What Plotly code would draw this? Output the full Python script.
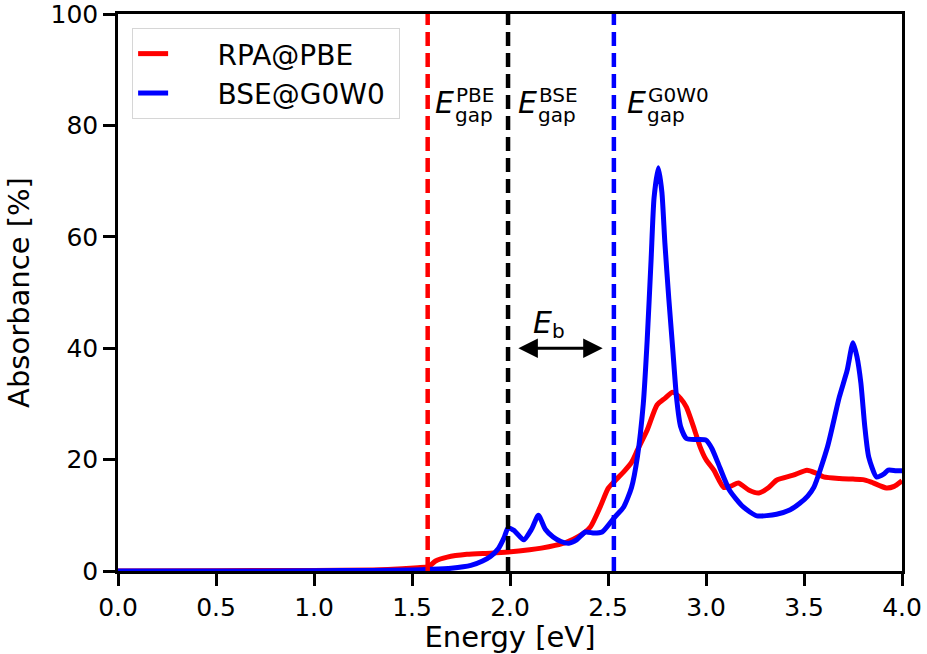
import plotly.graph_objects as go

# Absorbance spectra (energy in eV, absorbance in %)
energy_rpa = [0.0, 0.5, 1.0, 1.3, 1.45, 1.53, 1.585, 1.62, 1.68, 1.78, 1.9, 1.99, 2.1, 2.16,
              2.23, 2.29, 2.35, 2.41, 2.46, 2.5, 2.53, 2.58, 2.62, 2.65, 2.70, 2.75, 2.79,
              2.83, 2.87, 2.90, 2.94, 2.97, 3.0, 3.04, 3.09, 3.13, 3.165, 3.22, 3.27, 3.32,
              3.36, 3.445, 3.515, 3.56, 3.60, 3.68, 3.75, 3.80, 3.84, 3.92, 3.96, 4.0]
absorb_rpa = [0.0, 0.05, 0.1, 0.2, 0.4, 0.6, 0.8, 1.8, 2.5, 3.0, 3.2, 3.4, 3.8, 4.1,
              4.6, 5.2, 6.2, 7.9, 11.5, 14.8, 16.0, 17.8, 19.5, 21.7, 25.3, 29.8, 31.0,
              32.1, 31.0, 29.4, 25.5, 22.3, 20.0, 18.1, 15.0, 15.3, 15.8, 14.5, 14.0, 15.0,
              16.3, 17.2, 18.1, 17.6, 16.9, 16.6, 16.5, 16.4, 16.0, 14.9, 15.2, 16.2]

energy_bse = [0.0, 0.5, 1.0, 1.3, 1.5, 1.6, 1.7, 1.8, 1.86, 1.9, 1.94, 1.97, 1.99, 2.02,
              2.07, 2.11, 2.145, 2.18, 2.22, 2.26, 2.30, 2.34, 2.385, 2.43, 2.47, 2.53,
              2.58, 2.62, 2.65, 2.68, 2.70, 2.72, 2.735, 2.757, 2.775, 2.79, 2.81, 2.83,
              2.85, 2.87, 2.90, 2.95, 3.0, 3.03, 3.06, 3.12, 3.19, 3.26, 3.36, 3.43, 3.48,
              3.52, 3.55, 3.62, 3.68, 3.72, 3.75, 3.77, 3.79, 3.81, 3.83, 3.87, 3.91, 3.93,
              3.97, 4.0]
absorb_bse = [0.0, 0.0, 0.05, 0.1, 0.2, 0.3, 0.5, 1.0, 1.8, 2.6, 4.0, 6.0, 7.7, 7.3,
              5.6, 7.5, 10.0, 7.5, 6.1, 5.3, 5.0, 5.6, 7.0, 6.8, 7.0, 9.5,
              11.5, 15.0, 20.5, 30.0, 41.5, 56.0, 67.0, 72.4, 68.0, 59.0, 49.0, 40.0,
              31.0, 26.0, 23.8, 23.6, 23.5, 22.0, 19.5, 14.5, 11.5, 9.9, 10.2, 11.0, 12.2,
              13.5, 15.0, 22.3, 31.2, 36.0, 41.0, 38.5, 33.8, 26.0, 20.5, 16.9, 17.5, 18.1,
              18.0, 18.0]

# Band gaps (eV) and exciton binding-energy arrow
gap_names = ["PBE", "BSE", "G0W0"]
gap_values = [1.58, 1.99, 2.53]
gap_colors = ["red", "black", "blue"]
eb_range = [2.035, 2.473]
eb_level = 40

x_ticks = [0.0, 0.5, 1.0, 1.5, 2.0, 2.5, 3.0, 3.5, 4.0]
y_ticks = [0, 20, 40, 60, 80, 100]

FONT = "DejaVu Sans"
NB = "\u00a0"

fig = go.Figure()
fig.add_trace(go.Scatter(x=energy_rpa, y=absorb_rpa, mode="lines", name=NB * 5 + "RPA@PBE",
                         line=dict(color="red", width=5, shape="spline", smoothing=0.6)))
fig.add_trace(go.Scatter(x=energy_bse, y=absorb_bse, mode="lines", name=NB * 5 + "BSE@G0W0" + NB,
                         line=dict(color="blue", width=5, shape="spline", smoothing=0.6)))

for g, c in zip(gap_values, gap_colors):
    fig.add_trace(go.Scatter(x=[g, g], y=[0, 100], mode="lines", showlegend=False,
                             hoverinfo="skip",
                             line=dict(color=c, width=4.5, dash="14px,7px")))

# Gap labels: italic E with stacked super/subscripts
label_offsets = [0.027, 0.042, 0.058]
for name, g, off in zip(gap_names, gap_values, label_offsets):
    x0 = g + off
    fig.add_annotation(x=x0, y=84.2, xref="x", yref="y", text="<i>E</i>",
                       showarrow=False, xanchor="left", yanchor="middle",
                       font=dict(family=FONT, size=30, color="black"))
    fig.add_annotation(x=x0 + 0.105, y=85.5, xref="x", yref="y", text=name,
                       showarrow=False, xanchor="left", yanchor="middle",
                       font=dict(family=FONT, size=20, color="black"))
    fig.add_annotation(x=x0 + 0.1, y=81.8, xref="x", yref="y", text="gap",
                       showarrow=False, xanchor="left", yanchor="middle",
                       font=dict(family=FONT, size=20, color="black"))

# Binding-energy double arrow
fig.add_annotation(x=eb_range[1], y=eb_level, ax=eb_range[0], ay=eb_level,
                   xref="x", yref="y", axref="x", ayref="y", text="",
                   showarrow=True, arrowhead=2, startarrowhead=2, arrowside="end+start",
                   arrowsize=1.3, startarrowsize=1.3, arrowwidth=3, arrowcolor="black")
fig.add_annotation(x=2.105, y=44.6, xref="x", yref="y", text="<i>E</i>",
                   showarrow=False, xanchor="left", yanchor="middle",
                   font=dict(family=FONT, size=30, color="black"))
fig.add_annotation(x=2.205, y=43.0, xref="x", yref="y", text="b",
                   showarrow=False, xanchor="left", yanchor="middle",
                   font=dict(family=FONT, size=20, color="black"))

axis_common = dict(showline=True, linecolor="black", linewidth=2.5, mirror=True,
                   ticks="outside", ticklen=12, tickwidth=2.5, tickcolor="black",
                   showgrid=False, zeroline=False, automargin=False,
                   ticklabeloverflow="allow",
                   tickfont=dict(family=FONT, size=25, color="black"))

fig.update_xaxes(range=[0, 4], tickvals=x_ticks,
                 ticktext=[f"{v:.1f}" for v in x_ticks],
                 title=dict(text="Energy [eV]", font=dict(family=FONT, size=29, color="black"),
                            standoff=1),
                 **axis_common)
fig.update_yaxes(range=[0, 100], tickvals=y_ticks,
                 ticktext=[str(v) for v in y_ticks],
                 title=dict(text="Absorbance [%]", font=dict(family=FONT, size=29, color="black"),
                            standoff=13),
                 **axis_common)

fig.update_layout(
    width=927, height=654,
    margin=dict(l=118, r=25, t=14, b=83),
    plot_bgcolor="white", paper_bgcolor="white",
    font=dict(family=FONT, color="black"),
    legend=dict(x=0.018, y=0.975, xanchor="left", yanchor="top",
                bgcolor="rgba(255,255,255,0.8)", bordercolor="#d6d6d6", borderwidth=1,
                font=dict(family=FONT, size=28, color="black"),
                tracegroupgap=0),
    showlegend=True,
)

fig.write_html("out.html")
